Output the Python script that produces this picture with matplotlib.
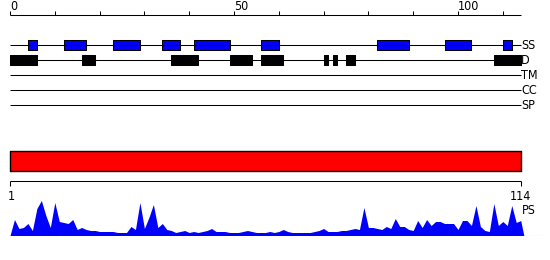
#!/usr/bin/env python3
"""Protein feature tracks (SS, D, TM, CC, SP) with PS profile."""

import matplotlib

matplotlib.use("Agg")

import matplotlib.pyplot as plt
from matplotlib import font_manager

SEQ_LEN = 114
TOP_TICKS = list(range(0, 111, 10))
TOP_LABELS = {0: "0", 50: "50", 100: "100"}

TRACKS = ["SS", "D", "TM", "CC", "SP"]

# (start, end) in residues
SS_SEGMENTS = [(4, 6), (12, 17), (23, 29), (34, 38), (41, 49), (56, 60),
               (82, 89), (97, 103), (110, 112)]
D_SEGMENTS = [(0, 6), (16, 19), (36, 42), (49, 54), (56, 61), (70, 71),
              (72, 73), (75, 77), (108, 114)]

PS_VALUES = [
    16, 7, 8, 12, 5, 27, 35, 20, 8, 33,
    14, 13, 12, 16, 6, 8, 6, 5, 5, 4,
    4, 4, 4, 3, 3, 3, 9, 6, 33, 7,
    18, 31, 8, 12, 6, 5, 3, 4, 5, 3,
    4, 3, 4, 5, 7, 4, 4, 4, 3, 3,
    3, 4, 5, 4, 3, 3, 3, 4, 3, 4,
    6, 4, 3, 3, 3, 3, 3, 4, 5, 7,
    4, 4, 4, 5, 5, 6, 7, 6, 28, 8,
    8, 7, 6, 9, 7, 17, 9, 9, 6, 5,
    15, 8, 16, 10, 14, 14, 12, 12, 12, 6,
    15, 15, 10, 30, 9, 5, 4, 32, 10, 14,
    10, 30, 13, 15,
]

BLUE = "#0000ff"
RED = "#ff0000"
BLACK = "#000000"

# pixel -> residue mapping: px = 10 + residue * 4.48
PX0 = 10.0
PX_PER_RES = 4.48
XLIM = (-PX0 / PX_PER_RES, (550 - PX0) / PX_PER_RES)

FS = 9
LW = 0.75


def label_font() -> dict:
    """Prefer a condensed sans, like the original renderer."""
    prop = font_manager.FontProperties(family="DejaVu Sans", stretch="condensed")
    path = font_manager.findfont(prop, fallback_to_default=False)
    if "Condensed" in path:
        return {"family": "DejaVu Sans", "stretch": "condensed", "fontsize": FS}
    return {"family": "Liberation Sans Narrow", "fontsize": FS + 1}


def main() -> None:
    font = label_font()
    fig = plt.figure(figsize=(5.5, 2.6), dpi=100)
    fig.patch.set_facecolor("white")

    ax = fig.add_axes([0, 0, 1, 1])
    ax.set_axis_off()
    ax.set_xlim(*XLIM)
    ax.set_ylim(260, 0)

    # top ruler
    ax.hlines(15, 0, SEQ_LEN, color=BLACK, lw=LW)
    ax.vlines(TOP_TICKS, 11, 15, color=BLACK, lw=LW)
    for t, lab in TOP_LABELS.items():
        ax.text(t, 10, lab, ha="left", va="baseline", **font)

    # feature tracks
    row_y = {name: 45 + 15 * i for i, name in enumerate(TRACKS)}
    for name, y in row_y.items():
        ax.hlines(y, 0, SEQ_LEN, color=BLACK, lw=LW)
        ax.text(SEQ_LEN + 0.05, y + 0.5, name, ha="left", va="center", **font)

    y = row_y["SS"]
    ax.broken_barh([(s, e - s) for s, e in SS_SEGMENTS], (y - 5, 10),
                   facecolors=BLUE, edgecolors=BLACK, linewidth=LW)
    y = row_y["D"]
    ax.broken_barh([(s, e - s) for s, e in D_SEGMENTS], (y - 5, 10),
                   facecolors=BLACK, edgecolors=BLACK, linewidth=LW)

    # full-length bar
    ax.broken_barh([(0, SEQ_LEN)], (150.5, 20),
                   facecolors=RED, edgecolors=BLACK, linewidth=1.0)

    # bottom ruler
    ax.hlines(180.5, 0, SEQ_LEN, color=BLACK, lw=LW)
    ax.vlines([0, SEQ_LEN], 180.5, 185.5, color=BLACK, lw=LW)
    ax.text(0.2, 199.5, "1", ha="center", va="baseline", **font)
    ax.text(SEQ_LEN, 199.5, str(SEQ_LEN), ha="center", va="baseline", **font)
    ax.text(SEQ_LEN + 0.2, 211, "PS", ha="left", va="center", **font)

    # PS profile
    ps_ax = fig.add_axes([0, (260 - 235.5) / 260, 1, 40 / 260])
    ps_ax.set_axis_off()
    ps_ax.set_xlim(*XLIM)
    ps_ax.set_ylim(0, 40)
    xs = [0] + list(range(1, SEQ_LEN + 1)) + [SEQ_LEN + 0.7]
    ys = [0] + PS_VALUES + [0]
    ps_ax.fill_between(xs, 0, ys, color=BLUE, lw=0)
    ps_ax.hlines(0, 0, SEQ_LEN + 4.7, color=BLUE, lw=LW)

    fig.savefig("out.png", dpi=100)
    plt.close(fig)


if __name__ == "__main__":
    main()
